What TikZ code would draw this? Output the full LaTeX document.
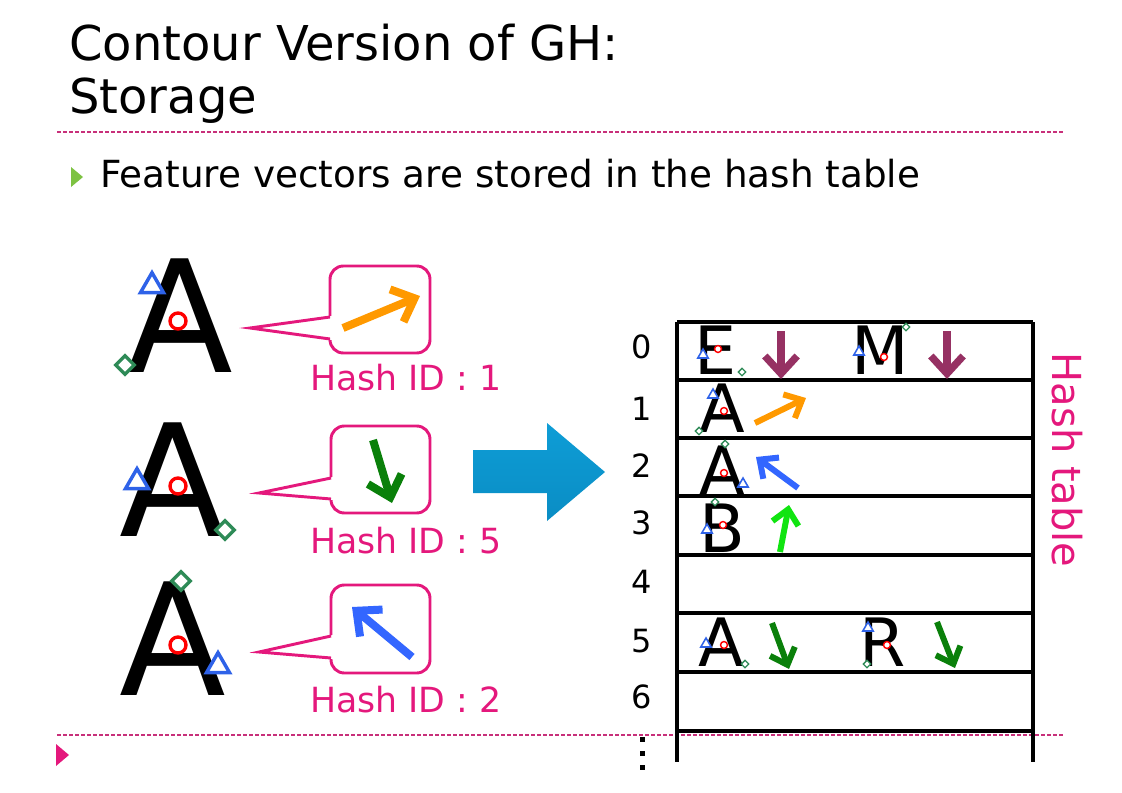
\documentclass[tikz,border=0pt]{standalone}
\usepackage{fontspec}
\setmainfont{DejaVu Sans}
\usetikzlibrary{shapes.geometric,arrows.meta}

\definecolor{hashpink}{HTML}{E4187C}
\definecolor{rulepink}{HTML}{C8307A}
\definecolor{markblue}{HTML}{2E62E8}
\definecolor{markgreen}{HTML}{2E8B57}
\definecolor{vecorange}{HTML}{FF9900}
\definecolor{vecgreen}{HTML}{0A800A}
\definecolor{veclime}{HTML}{11E411}
\definecolor{vecblue}{HTML}{3366FF}
\definecolor{vecpurple}{HTML}{963163}
\definecolor{bulletgreen}{HTML}{7DC242}
\definecolor{shafttop}{HTML}{0E9DD6}
\definecolor{shaftmid}{HTML}{1CBDEF}
\definecolor{shaftbot}{HTML}{0A8DC4}

\tikzset{
  bigglyph/.style={font=\fontsize{117}{117}\selectfont, inner sep=0pt, anchor=base west},
  glyph/.style={font=\fontsize{50}{50}\selectfont, inner sep=0pt, anchor=base west},
  tri/.style={draw=markblue, fill=white, regular polygon, regular polygon sides=3, inner sep=0pt, minimum size=#1, line width=0.13*#1},
  ring/.style={draw=red, fill=white, circle, inner sep=0pt, minimum size=#1, line width=0.21*#1},
  dia/.style={draw=markgreen, fill=white, diamond, inner sep=0pt, minimum size=#1, line width=0.17*#1},
  feat/.style={line width=#1, -{Straight Barb[length=0pt 2.4, width=0pt 4.4]}},
  callout/.style={draw=hashpink, line width=2.2pt},
  hashid/.style={anchor=base west, inner sep=0pt, text=hashpink, font=\fontsize{26}{26}\selectfont},
  rowlabel/.style={anchor=base, inner sep=0pt, font=\fontsize{24}{24}\selectfont},
  tabline/.style={line width=2.6pt},
  rule/.style={draw=rulepink, line width=0.8pt, dash pattern=on 3pt off 1.5pt}
}

\begin{document}
\begin{tikzpicture}[x=0.75pt,y=-0.75pt]
\useasboundingbox (0,0) rectangle (1122,793);

% heading
\node[anchor=base west, inner sep=0pt, font=\fontsize{36}{36}\selectfont] (title1) at (69,60) {Contour Version of GH:};
\node[anchor=base west, inner sep=0pt, font=\fontsize{36}{36}\selectfont] (title2) at (69,113) {Storage};
\path[rule] (57,132) -- (1065,132);
\fill[bulletgreen] (71,167) -- (83,177) -- (71,187) -- cycle;
\node[anchor=base west, inner sep=0pt, font=\fontsize{28}{28}\selectfont] (bullet) at (100,187) {Feature vectors are stored in the hash table};
\path[rule] (57,735) -- (1065,735);
\fill[hashpink] (56,744) -- (69,755) -- (56,766) -- cycle;

% letters with their points
\node[bigglyph] (a1) at (126,372) {A};
\node[bigglyph] (a2) at (119,536) {A};
\node[bigglyph] (a3) at (119,695) {A};
\node[tri=20pt] (t1) at (152,286) {};
\node[ring=12pt] (o1) at (178,321) {};
\node[dia=15pt] (d1) at (125,365) {};
\node[tri=20pt] (t2) at (137,482) {};
\node[ring=12pt] (o2) at (178,486) {};
\node[dia=15pt] (d2) at (225,530) {};
\node[dia=15pt] (d3) at (181,581) {};
\node[ring=12pt] (o3) at (178,645) {};
\node[tri=20pt] (t3) at (218,666) {};

% callouts
\path[callout, rounded corners=10pt] (330,266) rectangle (430,353);
\fill[white] (332,316) -- (250,328) -- (332,340) -- cycle;
\path[callout] (330,317) -- (250,328) -- (330,339);
\draw[feat=6pt, vecorange] (343,328) -- (420,296);
\node[hashid] (h1) at (310,390) {Hash ID : 1};

\path[callout, rounded corners=10pt] (331,426) rectangle (430,513);
\fill[white] (333,477) -- (259,493) -- (333,500) -- cycle;
\path[callout] (331,478) -- (259,493) -- (331,499);
\draw[feat=6pt, vecgreen] (373,440) -- (392,503);
\node[hashid] (h2) at (310,553) {Hash ID : 5};

\path[callout, rounded corners=10pt] (331,585) rectangle (430,673);
\fill[white] (333,635) -- (259,652) -- (333,659) -- cycle;
\path[callout] (331,636) -- (259,652) -- (331,658);
\draw[feat=6pt, vecblue] (412,657) -- (352,607);
\node[hashid] (h3) at (310,712) {Hash ID : 2};

% big arrow
\shade[top color=shafttop, middle color=shaftmid, bottom color=shaftbot]
  (473,450) -- (547,450) -- (547,423) -- (605,472) -- (547,521) -- (547,493) -- (473,493) -- cycle;

% hash table
\foreach \y in {322,380,438,496,555,613,672,731}
  \path[draw,tabline] (677,\y) -- (1033,\y);
\path[draw,tabline] (677,322) -- (677,762);
\path[draw,tabline] (1033,322) -- (1033,762);
\foreach \i/\y in {0/358,1/420,2/477,3/534,4/593,5/652,6/708}
  \node[rowlabel] (r\i) at (642,\y) {\i};
\foreach \y in {739,753,767}
  \fill (639.5,\y-2.5) rectangle +(5,5);
\node[rotate=-90, inner sep=0pt, text=hashpink, font=\fontsize{30}{30}\selectfont] (htab) at (1067,460) {Hash table};

% row 0
\node[glyph] (e0) at (694,374) {E};
\node[tri=9pt] at (703,355) {};
\node[ring=5.2pt] at (718,349) {};
\node[dia=6pt] at (742,372) {};
\draw[feat=5.5pt, vecpurple] (781,331) -- (781,379);
\node[glyph] (m0) at (851,374) {M};
\node[tri=9pt] at (859,352) {};
\node[ring=5.2pt] at (884,357) {};
\node[dia=6pt] at (906,327) {};
\draw[feat=5.5pt, vecpurple] (947,331) -- (947,379);
% row 1
\node[glyph] (a1r) at (699,432) {A};
\node[tri=9pt] at (713,395) {};
\node[ring=5.2pt] at (724,411) {};
\node[dia=6pt] at (699,431) {};
\draw[feat=4.5pt, vecorange] (755,423) -- (806,398);
% row 2
\node[glyph] (a2r) at (699,494) {A};
\node[dia=6pt] at (725,444) {};
\node[ring=5.2pt] at (724,473) {};
\node[tri=9pt] at (743,484) {};
\draw[feat=4.5pt, vecblue] (798,488) -- (756,457);
% row 3
\node[glyph] (b3) at (699,552) {B};
\node[dia=6pt] at (715,502) {};
\node[ring=5.2pt] at (723,525) {};
\node[tri=9pt] at (707,530) {};
\draw[feat=4.5pt, veclime] (780,552) -- (789,505);
% row 5
\node[glyph] (a5) at (698,666) {A};
\node[tri=9pt] at (706,644) {};
\node[ring=5.2pt] at (724,645) {};
\node[dia=6pt] at (745,664) {};
\draw[feat=4.5pt, vecgreen] (772,623) -- (789,669);
\node[glyph] (r5) at (859,666) {R};
\node[tri=9pt] at (868,628) {};
\node[ring=5.2pt] at (887,645) {};
\node[dia=6pt] at (867,664) {};
\draw[feat=4.5pt, vecgreen] (937,622) -- (955,668);
\end{tikzpicture}
\end{document}
